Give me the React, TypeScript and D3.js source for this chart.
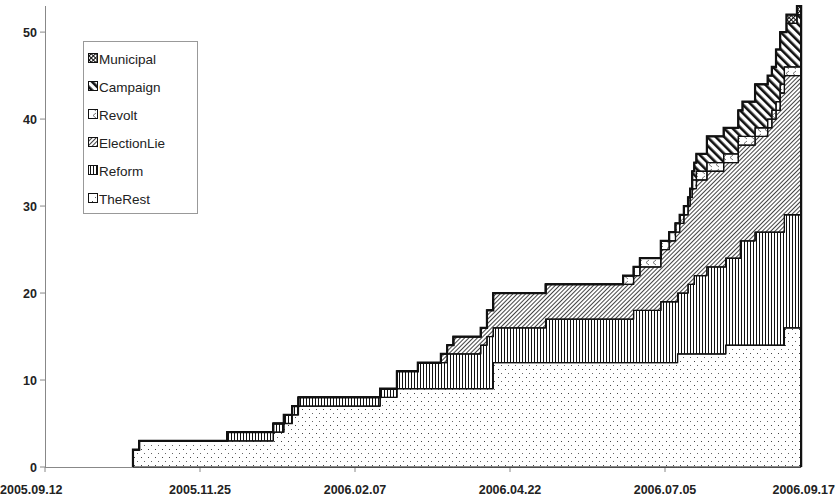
import React from "react";
import * as d3 from "d3";

// change-point dates (step after) and per-series values
const dates = [
  "2005-10-24", "2005-10-24", "2005-10-27", "2005-12-08", "2005-12-30", "2006-01-04", "2006-01-08",
  "2006-01-11", "2006-02-19", "2006-02-27", "2006-03-09", "2006-03-20", "2006-03-23",
  "2006-03-26", "2006-04-08", "2006-04-11", "2006-04-14", "2006-05-09", "2006-06-15",
  "2006-06-20", "2006-06-23", "2006-07-03", "2006-07-07", "2006-07-10", "2006-07-11",
  "2006-07-12", "2006-07-14", "2006-07-16", "2006-07-17", "2006-07-18", "2006-07-19",
  "2006-07-20", "2006-07-25", "2006-08-02", "2006-08-03", "2006-08-09", "2006-08-10",
  "2006-08-11", "2006-08-17", "2006-08-23", "2006-08-25", "2006-08-27", "2006-08-29",
  "2006-08-31", "2006-09-01", "2006-09-06", "2006-09-08",
];
const theRest = [0, 2, 3, 3, 4, 5, 6, 7, 8, 9, 9, 9, 9, 9, 9, 9, 12, 12, 12, 12, 12, 12, 12, 12, 13, 13, 13, 13, 13, 13, 13, 13, 13, 13, 14, 14, 14, 14, 14, 14, 14, 14, 14, 16, 16, 16, 0];
const reform = [0, 0, 0, 1, 1, 1, 1, 1, 1, 2, 3, 3, 4, 4, 5, 6, 4, 5, 5, 6, 6, 7, 7, 7, 7, 7, 7, 8, 8, 8, 9, 9, 10, 10, 10, 10, 12, 12, 13, 13, 13, 13, 13, 13, 13, 13, 0];
const electionLie = [0, 0, 0, 0, 0, 0, 0, 0, 0, 0, 0, 1, 1, 2, 2, 3, 4, 4, 4, 4, 5, 6, 7, 8, 7, 8, 9, 9, 10, 11, 10, 11, 11, 12, 11, 13, 11, 11, 11, 12, 13, 14, 16, 16, 16, 16, 0];
const revolt = [0, 0, 0, 0, 0, 0, 0, 0, 0, 0, 0, 0, 0, 0, 0, 0, 0, 0, 1, 1, 1, 1, 1, 1, 1, 1, 1, 1, 1, 1, 1, 1, 1, 1, 1, 1, 1, 1, 1, 1, 1, 1, 1, 1, 1, 1, 0];
const campaign = [0, 0, 0, 0, 0, 0, 0, 0, 0, 0, 0, 0, 0, 0, 0, 0, 0, 0, 0, 0, 0, 0, 0, 0, 0, 0, 0, 0, 0, 1, 2, 2, 3, 3, 3, 3, 3, 4, 5, 5, 5, 6, 6, 4, 5, 6, 0];
const municipal = [0, 0, 0, 0, 0, 0, 0, 0, 0, 0, 0, 0, 0, 0, 0, 0, 0, 0, 0, 0, 0, 0, 0, 0, 0, 0, 0, 0, 0, 0, 0, 0, 0, 0, 0, 0, 0, 0, 0, 0, 0, 0, 0, 0, 1, 1, 0];

const seriesKeys = ["TheRest", "Reform", "ElectionLie", "Revolt", "Campaign", "Municipal"];
const legendOrder = ["Municipal", "Campaign", "Revolt", "ElectionLie", "Reform", "TheRest"];
const xTickLabels = ["2005.09.12", "2005.11.25", "2006.02.07", "2006.04.22", "2006.07.05", "2006.09.17"];
const yTicks = [0, 10, 20, 30, 40, 50];

const W = 836;
const H = 499;
const FONT = "'Liberation Sans', Arial, sans-serif";

const patternId: Record<string, string> = {
  TheRest: "pDots",
  Reform: "pVert",
  ElectionLie: "pDiag",
  Revolt: "pChev",
  Campaign: "pThick",
  Municipal: "pCross",
};

export default function App() {
  const parse = d3.timeParse("%Y-%m-%d");
  const parseTick = d3.timeParse("%Y.%m.%d");
  const columns: Record<string, number[]> = {
    TheRest: theRest,
    Reform: reform,
    ElectionLie: electionLie,
    Revolt: revolt,
    Campaign: campaign,
    Municipal: municipal,
  };
  const rows = dates.map((d, i) => {
    const r: any = { date: parse(d) };
    seriesKeys.forEach((k) => (r[k] = columns[k][i]));
    return r;
  });
  const stacked = d3.stack().keys(seriesKeys)(rows);
  const totals = rows.map((r) => seriesKeys.reduce((s, k) => s + r[k], 0));

  const x = d3
    .scaleTime()
    .domain([parseTick(xTickLabels[0])!, parseTick(xTickLabels[xTickLabels.length - 1])!])
    .range([45, 820]);
  const y = d3.scaleLinear().domain([0, d3.max(totals)!]).range([467, 6]);
  const axisEnd = x(rows[rows.length - 1].date);

  const area = d3
    .area<any>()
    .x((d) => x(d.data.date))
    .y0((d) => y(d[0]))
    .y1((d) => y(d[1]))
    .curve(d3.curveStepAfter);
  const topLine = d3
    .line<any>()
    .x((d) => x(d.data.date))
    .y((d) => y(d[1]))
    .curve(d3.curveStepAfter);

  const lastLayer = stacked[stacked.length - 1];

  return (
    <svg width={W} height={H} style={{ position: "absolute", left: 0, top: 0, background: "#fff" }}>
      <defs>
        <pattern id="pDots" width="7" height="8" patternUnits="userSpaceOnUse">
          <rect width="7" height="8" fill="#fff" />
          <rect x="1" y="1" width="1" height="1" fill="#444" />
          <rect x="4" y="5" width="1" height="1" fill="#666" />
        </pattern>
        <pattern id="pVert" width="3" height="4" patternUnits="userSpaceOnUse">
          <rect width="3" height="4" fill="#fff" />
          <rect x="0" y="0" width="1" height="4" fill="#111" />
        </pattern>
        <pattern id="pDiag" width="3" height="3" patternUnits="userSpaceOnUse" patternTransform="rotate(45)">
          <rect width="3" height="3" fill="#fff" />
          <rect x="0" y="0" width="1" height="3" fill="#444" />
        </pattern>
        <pattern id="pChev" width="7" height="7" patternUnits="userSpaceOnUse">
          <rect width="7" height="7" fill="#fff" />
          <path d="M5,1 L2,3.5 L5,6" fill="none" stroke="#555" strokeWidth="0.8" />
        </pattern>
        <pattern id="pThick" width="6" height="6" patternUnits="userSpaceOnUse" patternTransform="rotate(-45)">
          <rect width="6" height="6" fill="#fff" />
          <rect x="0" y="0" width="2.6" height="6" fill="#111" />
        </pattern>
        <pattern id="pCross" width="3" height="3" patternUnits="userSpaceOnUse" patternTransform="rotate(45)">
          <rect width="3" height="3" fill="#fff" />
          <rect x="0" y="0" width="1" height="3" fill="#111" />
          <rect x="0" y="0" width="3" height="1" fill="#111" />
        </pattern>
      </defs>

      {/* axes */}
      <line x1={45.5} x2={45.5} y1={y.range()[1]} y2={467} stroke="#888" strokeWidth={1} />
      <line x1={45} x2={axisEnd} y1={467.5} y2={467.5} stroke="#888" strokeWidth={1} />
      {yTicks.map((t) => (
        <g key={"y" + t}>
          <line x1={40} x2={45} y1={y(t)} y2={y(t)} stroke="#888" />
          <text
            x={37}
            y={y(t) + 4.5}
            textAnchor="end"
            fontFamily={FONT}
            fontSize={12.5}
            fontWeight="bold"
            fill="#222"
          >
            {t}
          </text>
        </g>
      ))}
      {xTickLabels.map((lab, i) => {
        const px = x(parseTick(lab)!);
        const last = i === xTickLabels.length - 1;
        const anchorX = i === 0 ? 0 : last ? 835 : px;
        return (
          <g key={lab}>
            {px <= axisEnd + 1 && (
              <line x1={px} x2={px} y1={467} y2={472} stroke="#888" />
            )}
            <text
              x={anchorX}
              y={494}
              textAnchor={i === 0 ? "start" : last ? "end" : "middle"}
              fontFamily={FONT}
              fontSize={12.5}
              fontWeight="bold"
              fill="#222"
            >
              {lab}
            </text>
          </g>
        );
      })}

      {/* stacked step areas */}
      {stacked.map((layer) => (
        <path
          key={layer.key}
          d={area(layer as any) || ""}
          fill={`url(#${patternId[layer.key]})`}
          stroke="#111"
          strokeWidth={1}
        />
      ))}
      {stacked.map((layer) => (
        <path
          key={"l" + layer.key}
          d={topLine(layer as any) || ""}
          fill="none"
          stroke="#111"
          strokeWidth={1.3}
        />
      ))}
      <path d={topLine(lastLayer as any) || ""} fill="none" stroke="#111" strokeWidth={2.2} />

      {/* legend */}
      <rect x={83.5} y={41.5} width={114} height={172} fill="#fff" stroke="#999" strokeWidth={1} />
      {legendOrder.map((k, i) => {
        const cy = 59 + i * 28;
        return (
          <g key={"lg" + k}>
            <rect x={88.5} y={cy - 5.5} width={9} height={9} fill={`url(#${patternId[k]})`} stroke="#111" strokeWidth={1} />
            <text x={99} y={cy + 4.5} fontFamily={FONT} fontSize={13.5} fill="#222">
              {k}
            </text>
          </g>
        );
      })}
    </svg>
  );
}
